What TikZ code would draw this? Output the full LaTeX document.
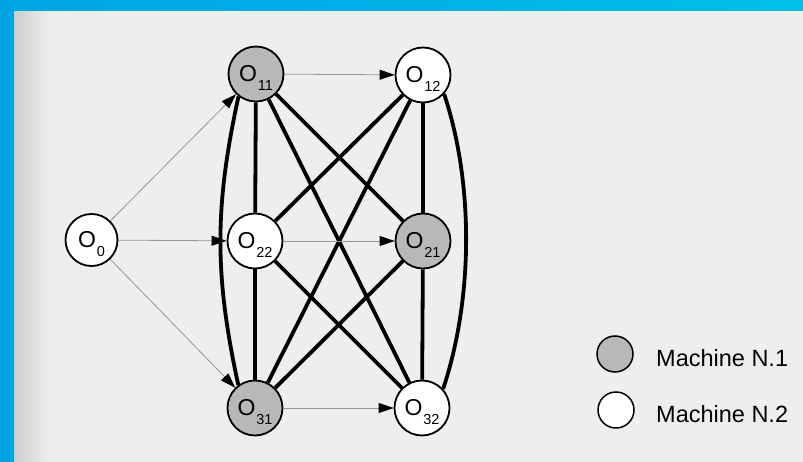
\documentclass[tikz,border=0pt]{standalone}
\usepackage{fontspec}
\setmainfont{Liberation Sans}
\usetikzlibrary{arrows.meta}
\definecolor{bandblue}{RGB}{0,164,228}
\definecolor{bandcyan}{RGB}{0,192,232}
\definecolor{pagegray}{RGB}{238,238,238}
\definecolor{shadowgray}{RGB}{205,205,205}
\definecolor{nodegray}{RGB}{184,184,184}
\definecolor{thingray}{RGB}{150,150,150}
\newcommand\olab[1]{O\kern0.8pt\smash{\raisebox{-8.5pt}{\fontsize{14.5}{14.5}\selectfont #1}}}
\begin{document}
\begin{tikzpicture}[x=1pt,y=-1pt,
  op/.style={circle,draw=black,line width=1.8pt,minimum size=55pt,inner sep=0pt,font=\fontsize{23}{23}\selectfont},
  mone/.style={op,fill=nodegray},
  mtwo/.style={op,fill=white},
  legone/.style={circle,draw=black,line width=1.5pt,minimum size=36pt,inner sep=0pt,fill=nodegray},
  legtwo/.style={legone,fill=white},
  legtext/.style={anchor=base west,font=\fontsize{23.5}{23.5}\selectfont,inner sep=0pt},
  strongedge/.style={line width=3.8pt,black},
  thinarrow/.style={line width=0.8pt,thingray,-{Triangle[length=15pt,width=10pt,color=black]}}
]
\useasboundingbox (0,0) rectangle (803,462);
% background
\fill[pagegray] (0,0) rectangle (803,462);
\shade[left color=shadowgray,right color=pagegray] (14,11) rectangle (50,462);
\fill[bandblue] (0,0) rectangle (14,462);
\shade[left color=bandblue,right color=bandcyan] (0,0) rectangle (803,11);

% nodes
\node[mtwo,minimum size=52pt] (O0) at (91.5,240) {\olab{0}};
\node[mone] (O11) at (256,74) {\olab{11}};
\node[mtwo] (O12) at (423,75) {\olab{12}};
\node[mtwo] (O22) at (255,241) {\olab{22}};
\node[mone] (O21) at (423,241) {\olab{21}};
\node[mone] (O31) at (255,408) {\olab{31}};
\node[mtwo] (O32) at (422,408) {\olab{32}};

% thick undirected edges
\draw[strongedge] (O11) -- (O22);
\draw[strongedge] (O22) -- (O31);
\draw[strongedge] (O12) -- (O21);
\draw[strongedge] (O21) -- (O32);
\draw[strongedge] (O11) -- (O21);
\draw[strongedge] (O11) -- (O32);
\draw[strongedge] (O12) -- (O22);
\draw[strongedge] (O12) -- (O31);
\draw[strongedge] (O22) -- (O32);
\draw[strongedge] (O21) -- (O31);
\draw[strongedge] (O11.232) .. controls +(-24,110) and +(-24,-110) .. (O31.126);
\draw[strongedge] (O12.318) .. controls +(30,90) and +(30,-90) .. (O32.42);

% thin directed arrows
\draw[thinarrow] (O0) -- (O11);
\draw[thinarrow] (O0) -- (O22);
\draw[thinarrow] (O0) -- (O31);
\draw[thinarrow] (O11) -- (O12);
\draw[thinarrow] (O22) -- (O21);
\draw[thinarrow] (O31) -- (O32);

% legend
\node[legone] (L1) at (615,354) {};
\node[legtwo] (L2) at (616,410) {};
\node[legtext] (T1) at (656,366) {Machine N.1};
\node[legtext] (T2) at (656,422.5) {Machine N.2};
\end{tikzpicture}
\end{document}
